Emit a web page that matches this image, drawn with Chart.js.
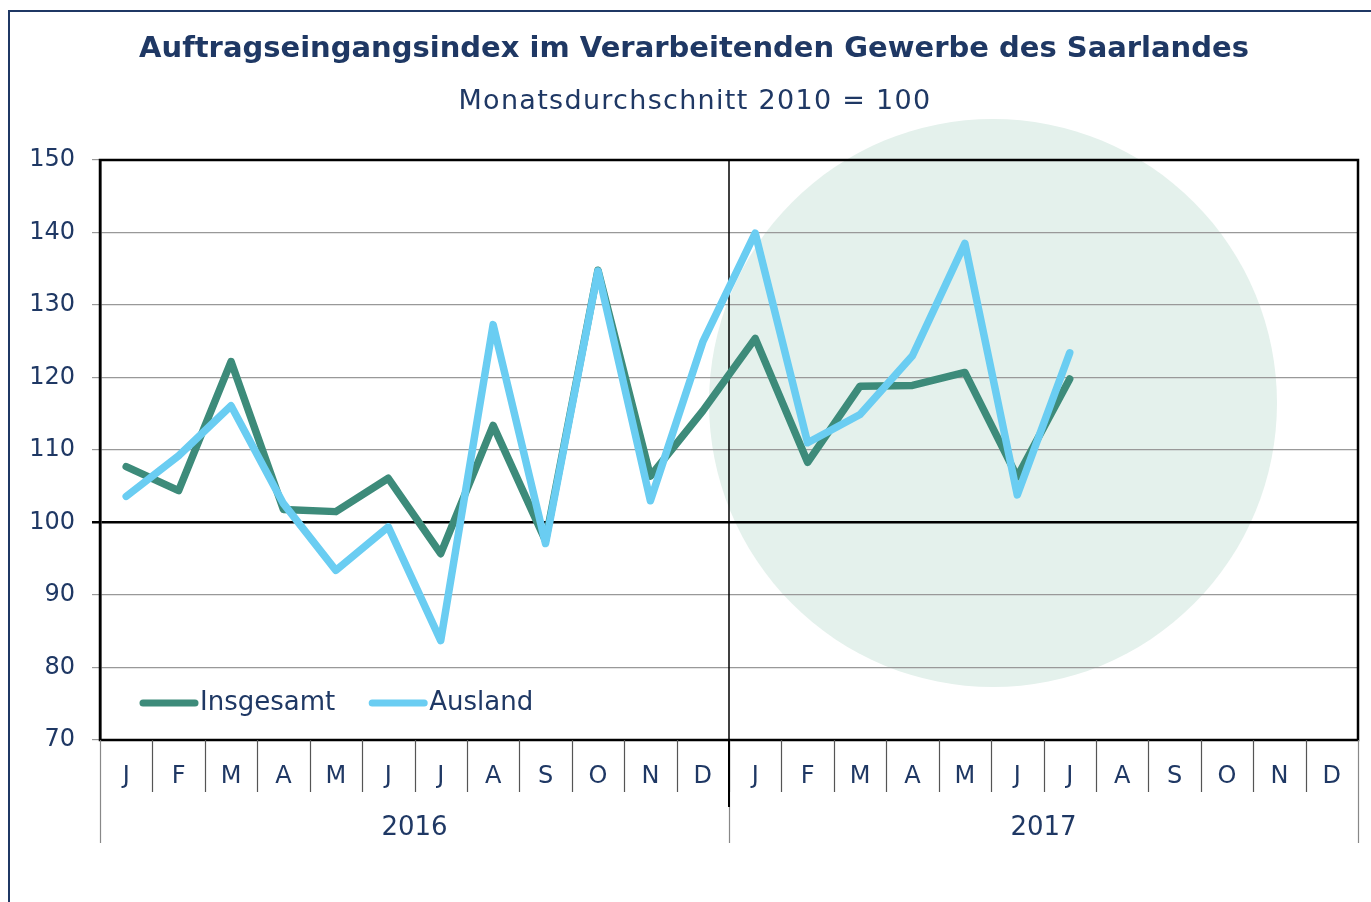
<!DOCTYPE html>
<html>
<head>
<meta charset="utf-8">
<script src="https://cdn.jsdelivr.net/npm/chart.js@4.4.1/dist/chart.umd.min.js"></script>
<style>
  html, body { margin: 0; padding: 0; background: #fff; }
</style>
</head>
<body>
<canvas id="auftragChart" width="1371" height="902"></canvas>
<script>
// months Jan 2016 .. Dec 2017
const months = ['J','F','M','A','M','J','J','A','S','O','N','D',
                'J','F','M','A','M','J','J','A','S','O','N','D'];
const years = ['2016', '2017'];
const yTicks = [70, 80, 90, 100, 110, 120, 130, 140, 150];

// index values (2010 = 100)
const insgesamt = [107.7, 104.4, 122.2, 101.8, 101.5, 106.1, 95.7, 113.4, 97.5, 134.8, 106.4, 115.4,
                   125.4, 108.3, 118.8, 118.9, 120.7, 106.3, 119.8];
const ausland   = [103.6, 109.2, 116.1, 102.6, 93.4, 99.4, 83.7, 127.3, 97.1, 134.7, 103.0, 124.9,
                   139.9, 111.0, 114.9, 123.0, 138.5, 103.8, 123.4];

const NAVY = '#1f3864';
const FONT = '"DejaVu Sans", Verdana, sans-serif';

const decor = {
  id: 'decor',
  beforeDraw(chart) {
    const ctx = chart.ctx;
    ctx.save();
    ctx.fillStyle = '#fff';
    ctx.fillRect(0, 0, chart.width, chart.height);
    // light green disc behind the 2017 part
    ctx.fillStyle = '#e4f1ec';
    ctx.beginPath();
    ctx.arc(993, 403, 284, 0, Math.PI * 2);
    ctx.fill();
    // frame
    ctx.strokeStyle = NAVY;
    ctx.lineWidth = 2;
    ctx.beginPath();
    ctx.moveTo(9, chart.height);
    ctx.lineTo(9, 11);
    ctx.lineTo(chart.width, 11);
    ctx.stroke();
    // titles
    ctx.fillStyle = NAVY;
    ctx.textAlign = 'center';
    ctx.textBaseline = 'middle';
    ctx.font = 'bold 29px ' + FONT;
    ctx.fillText('Auftragseingangsindex im Verarbeitenden Gewerbe des Saarlandes', 694, 49);
    ctx.font = '27px ' + FONT;
    ctx.letterSpacing = '1.3px';
    ctx.fillText('Monatsdurchschnitt 2010 = 100', 695, 102);
    ctx.restore();
  },
  beforeDatasetsDraw(chart) {
    const ctx = chart.ctx, a = chart.chartArea, x = chart.scales.x;
    const mid = (x.getPixelForValue(11) + x.getPixelForValue(12)) / 2;
    ctx.save();
    ctx.strokeStyle = '#000';
    ctx.lineWidth = 1.5;
    ctx.beginPath();
    ctx.moveTo(mid, a.top);
    ctx.lineTo(mid, a.bottom);
    ctx.stroke();
    ctx.restore();
  },
  afterDraw(chart) {
    const ctx = chart.ctx, a = chart.chartArea, x = chart.scales.x;
    const step = x.getPixelForValue(1) - x.getPixelForValue(0);
    ctx.save();
    // plot frame
    ctx.strokeStyle = '#000';
    ctx.lineWidth = 2.5;
    ctx.strokeRect(a.left, a.top, a.right - a.left, a.bottom - a.top);
    // month separators
    ctx.lineWidth = 1.2;
    ctx.strokeStyle = '#555';
    for (let i = 1; i < months.length; i++) {
      const px = Math.round(x.getPixelForValue(i) - step / 2) + 0.5;
      ctx.beginPath();
      ctx.moveTo(px, a.bottom);
      ctx.lineTo(px, a.bottom + 52);
      ctx.stroke();
    }
    // year separators
    ctx.strokeStyle = '#888';
    [0, 12, 24].forEach(i => {
      const px = Math.round(x.getPixelForValue(i) - step / 2) + 0.5;
      ctx.beginPath();
      ctx.moveTo(px, a.bottom);
      ctx.lineTo(px, a.bottom + 103);
      ctx.stroke();
    });
    const mid = x.getPixelForValue(12) - step / 2;
    ctx.strokeStyle = '#000';
    ctx.lineWidth = 2;
    ctx.beginPath();
    ctx.moveTo(mid, a.bottom);
    ctx.lineTo(mid, a.bottom + 67);
    ctx.stroke();
    // year labels
    ctx.fillStyle = NAVY;
    ctx.font = '26px ' + FONT;
    ctx.textAlign = 'center';
    ctx.textBaseline = 'middle';
    years.forEach((y, k) => {
      const c = (x.getPixelForValue(k * 12) + x.getPixelForValue(k * 12 + 11)) / 2;
      ctx.fillText(y, c, a.bottom + 88);
    });
    // legend inside plot
    ctx.font = '26px ' + FONT;
    ctx.textAlign = 'left';
    let lx = 140;
    const ly = 703;
    chart.data.datasets.forEach(ds => {
      ctx.strokeStyle = ds.borderColor;
      ctx.lineWidth = 7;
      ctx.lineCap = 'round';
      ctx.beginPath();
      ctx.moveTo(lx + 3, ly);
      ctx.lineTo(lx + 55, ly);
      ctx.stroke();
      ctx.fillText(ds.label, lx + 60, ly);
      lx += 60 + ctx.measureText(ds.label).width + 34;
    });
    ctx.restore();
  }
};

new Chart(document.getElementById('auftragChart'), {
  type: 'line',
  data: {
    labels: months,
    datasets: [
      {
        label: 'Insgesamt',
        data: insgesamt,
        order: 1,
        borderColor: '#3d8b7a',
        borderWidth: 7.5,
        borderJoinStyle: 'round',
        borderCapStyle: 'round',
        pointRadius: 0,
        tension: 0
      },
      {
        label: 'Ausland',
        data: ausland,
        order: 0,
        borderColor: '#6acdf2',
        borderWidth: 7.5,
        borderJoinStyle: 'round',
        borderCapStyle: 'round',
        pointRadius: 0,
        tension: 0
      }
    ]
  },
  options: {
    responsive: false,
    animation: false,
    devicePixelRatio: 1,
    layout: { padding: { top: 160, right: 13, bottom: 110, left: 0 } },
    plugins: {
      legend: { display: false },
      title: { display: false },
      tooltip: { enabled: false }
    },
    scales: {
      x: {
        offset: true,
        afterFit(scale) { scale.height = 52; },
        grid: { display: false, offset: true },
        border: { display: false },
        ticks: {
          autoSkip: false,
          maxRotation: 0,
          padding: 14,
          color: NAVY,
          font: { family: FONT, size: 24 }
        }
      },
      y: {
        min: 70,
        max: 150,
        afterFit(scale) { scale.width = 100; },
        afterBuildTicks(scale) { scale.ticks = yTicks.map(v => ({ value: v })); },
        grid: {
          color: c => c.tick && c.tick.value === 100 ? '#000' : '#999',
          lineWidth: c => c.tick && c.tick.value === 100 ? 2.5 : 1.2,
          tickLength: 8
        },
        border: { color: '#000', width: 2.5 },
        ticks: {
          padding: 17,
          color: NAVY,
          font: { family: FONT, size: 24 }
        }
      }
    }
  },
  plugins: [decor]
});
</script>
</body>
</html>
